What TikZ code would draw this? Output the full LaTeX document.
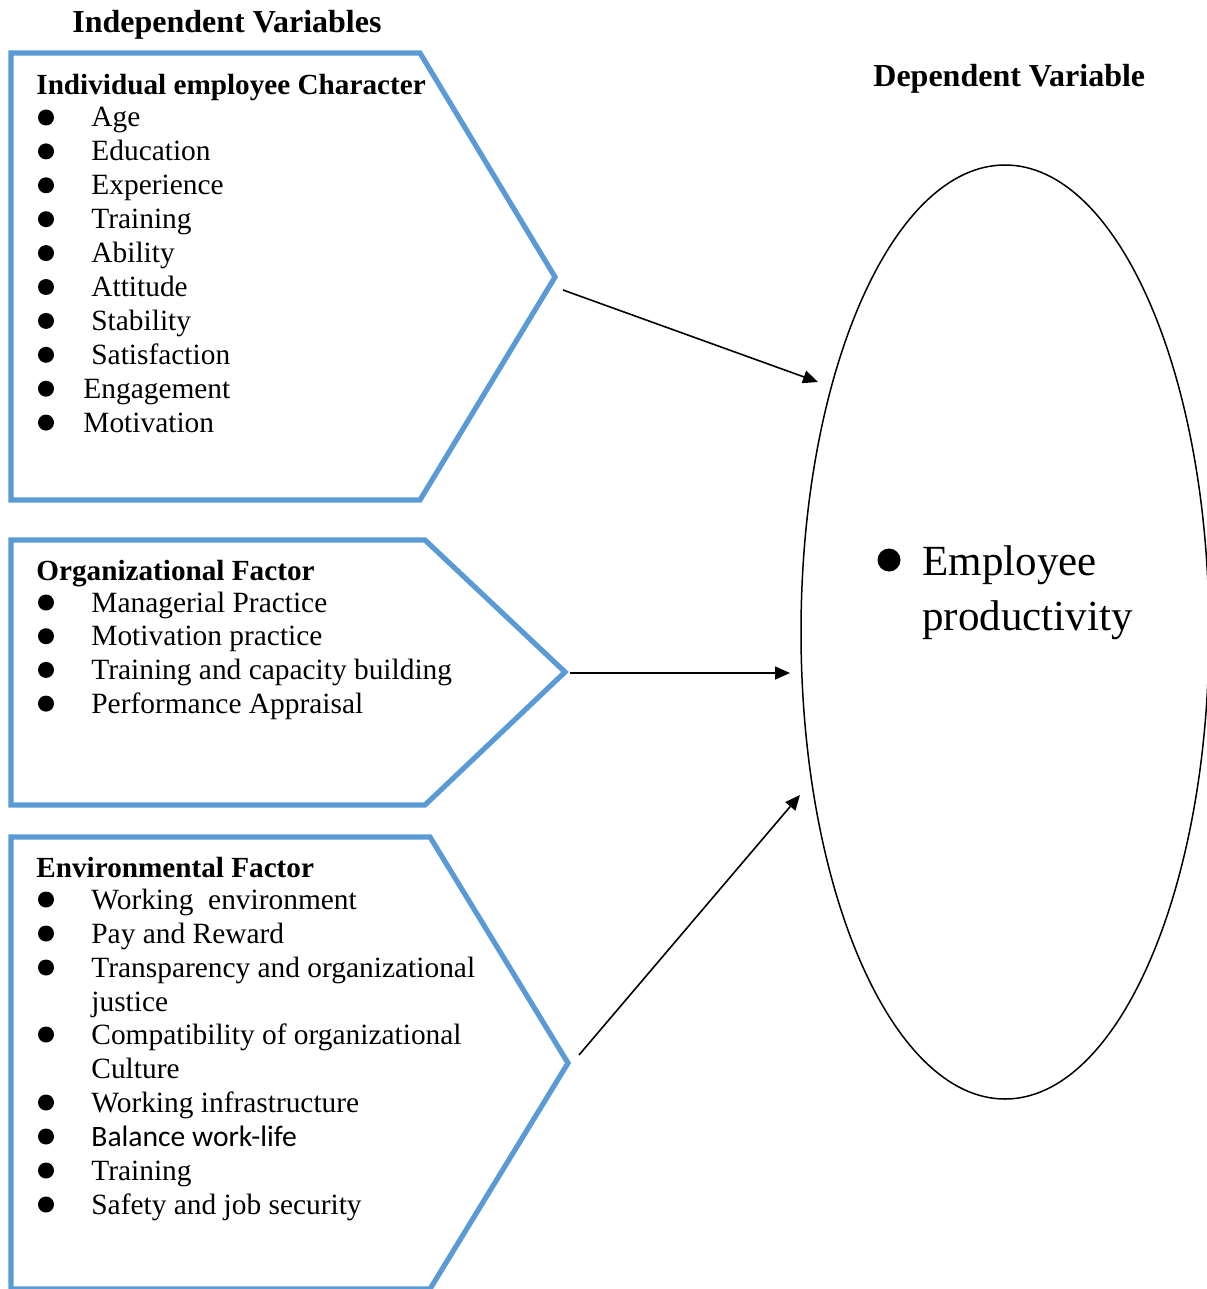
\documentclass[tikz,border=0pt]{standalone}
\usepackage{fontspec}
\setmainfont{Liberation Serif}
\newfontfamily\calibrifont{Carlito}
\usetikzlibrary{arrows.meta,shapes.geometric}
\definecolor{boxblue}{HTML}{5B9BD5}
\begin{document}
\begin{tikzpicture}[x=0.5pt,y=-0.5pt,
  panel/.style={draw=boxblue,line width=2.6pt},
  item/.style={anchor=base west,inner sep=0pt,font=\fontsize{14.7}{17}\selectfont},
  head/.style={anchor=base west,inner sep=0pt,font=\fontsize{14.6}{17}\selectfont\bfseries},
  title/.style={anchor=base west,inner sep=0pt,font=\fontsize{16}{19}\selectfont\bfseries},
  big/.style={anchor=base west,inner sep=0pt,font=\fontsize{21.5}{27.5}\selectfont},
  dot/.style={circle,fill=black,inner sep=0pt,minimum size=8pt},
  link/.style={-{Triangle[length=7.5pt,width=6.5pt]},line width=0.8pt}]
\useasboundingbox (0,0) rectangle (1206,1289);

% titles
\node[title] (indep) at (72,33) {Independent Variables};
\node[title] (dep) at (873,87) {Dependent Variable};

% panel 1
\draw[panel] (11,53) -- (420,53) -- (555,277) coordinate (tip1) -- (420,500) -- (11,500) -- cycle;
\node[head] (h1) at (36,95) {Individual employee Character};
\foreach \t [count=\i from 0] in {Age,Education,Experience,Training,Ability,Attitude,Stability,Satisfaction}{
  \node[dot] (a\i) at (46,127-9.5+33.9*\i) {};
  \node[item] (at\i) at (91,127+33.9*\i) {\t};
}
\node[dot] (a8) at (46,127-9.5+33.9*8) {};
\node[item] (at8) at (83,127+33.9*8) {Engagement};
\node[dot] (a9) at (46,127-9.5+33.9*9) {};
\node[item] (at9) at (83,127+33.9*9) {Motivation};

% panel 2
\draw[panel] (11,540) -- (425,540) -- (565,672) coordinate (tip2) -- (425,805) -- (11,805) -- cycle;
\node[head] (h2) at (36,580) {Organizational Factor};
\foreach \t [count=\i from 0] in {Managerial Practice,Motivation practice,Training and capacity building,Performance Appraisal}{
  \node[dot] (b\i) at (46,612-9.5+33.7*\i) {};
  \node[item] (bt\i) at (91,612+33.7*\i) {\t};
}

% panel 3
\draw[panel] (11,837) -- (430,837) -- (568,1063) coordinate (tip3) -- (430,1289) -- (11,1289) -- cycle;
\node[head] (h3) at (36,877) {Environmental Factor};
\node[dot] (c0) at (46,909-9.5) {};
\node[item] (ct0) at (91,909) {Working\ \ environment};
\node[dot] (c1) at (46,943-9.5) {};
\node[item] (ct1) at (91,943) {Pay and Reward};
\node[dot] (c2) at (46,977-9.5) {};
\node[item] (ct2) at (91,977) {Transparency and organizational};
\node[item] (ct2b) at (91,1011) {justice};
\node[dot] (c3) at (46,1044-9.5) {};
\node[item] (ct3) at (91,1044) {Compatibility of organizational};
\node[item] (ct3b) at (91,1078) {Culture};
\node[dot] (c4) at (46,1112-9.5) {};
\node[item] (ct4) at (91,1112) {Working infrastructure};
\node[dot] (c5) at (46,1146-9.5) {};
\node[item,font=\fontsize{14.8}{17}\calibrifont] (ct5) at (91,1146) {Balance work-life};
\node[dot] (c6) at (46,1180-9.5) {};
\node[item] (ct6) at (91,1180) {Training};
\node[dot] (c7) at (46,1214-9.5) {};
\node[item] (ct7) at (91,1214) {Safety and job security};

% dependent ellipse
\node[draw,ellipse,line width=0.75pt,minimum width=204pt,minimum height=467pt,inner sep=0pt] (prod) at (1005,632) {};
\node[dot,minimum size=11.5pt] (pdot) at (889,560) {};
\node[big] (ptext1) at (922,575) {Employee};
\node[big] (ptext2) at (922,630) {productivity};

% arrows
\coordinate (s1) at (563,290);
\coordinate (e1) at (818,382);
\coordinate (s2) at (570,673);
\coordinate (e2) at (790,673);
\coordinate (s3) at (579,1055);
\coordinate (e3) at (800,795);
\draw[link] (s1) -- (e1);
\draw[link] (s2) -- (e2);
\draw[link] (s3) -- (e3);
\end{tikzpicture}
\end{document}
